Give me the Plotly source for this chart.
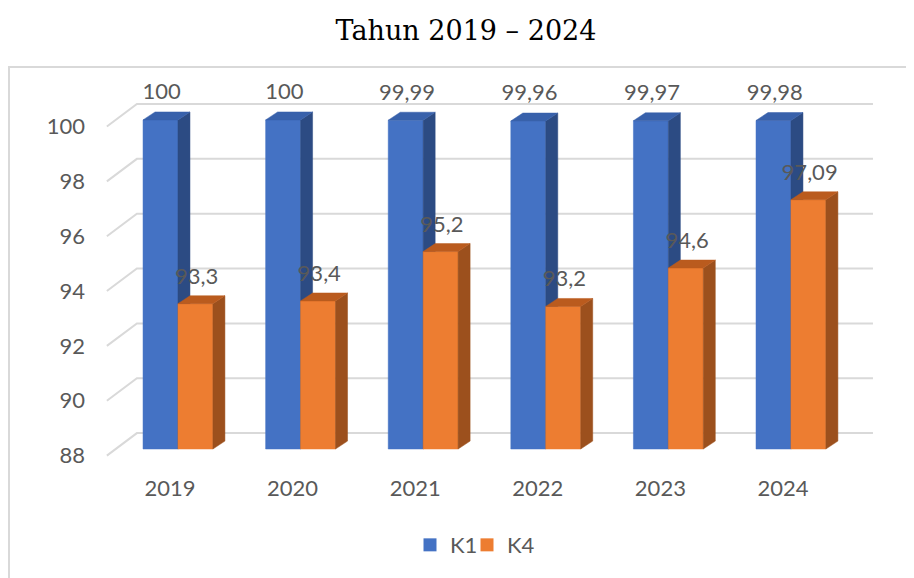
import plotly.graph_objects as go

# Data
years = ["2019", "2020", "2021", "2022", "2023", "2024"]
k1 = [100, 100, 99.99, 99.96, 99.97, 99.98]
k4 = [93.3, 93.4, 95.2, 93.2, 94.6, 97.09]
k1_labels = ["100", "100", "99,99", "99,96", "99,97", "99,98"]
k4_labels = ["93,3", "93,4", "95,2", "93,2", "94,6", "97,09"]
y_ticks = [88, 90, 92, 94, 96, 98, 100]

# Pseudo-3D geometry (axis units)
base = 88
bw = 0.285          # bar front width
dx, dy = 0.098, 0.29   # bar depth
wall_dx, wall_dy = 0.245, 0.58   # back wall offset
front_left = -0.58
wall_right = 5.669
label_drop = 0.24

blue = dict(front="#4472C4", side="#2C4B83", top="#3861AB")
orange = dict(front="#ED7D31", side="#9C501D", top="#BA5B1E")

fig = go.Figure()

# back wall gridlines + floor diagonals
gx, gy = [], []
for v in y_ticks:
    gx += [front_left, front_left + wall_dx, wall_right, None]
    gy += [v - label_drop, v + wall_dy, v + wall_dy, None]
fig.add_trace(go.Scatter(x=gx, y=gy, mode="lines", line=dict(color="#D9D9D9", width=2),
                         hoverinfo="skip", showlegend=False))


def add_bars(values, x_shift, col):
    fx, fy, sx, sy, tx, ty = [], [], [], [], [], []
    for i, v in enumerate(values):
        x0 = i + x_shift
        x1 = x0 + bw
        fx += [x0, x1, x1, x0, x0, None]
        fy += [base, base, v, v, base, None]
        sx += [x1, x1 + dx, x1 + dx, x1, x1, None]
        sy += [base, base + dy, v + dy, v, base, None]
        tx += [x0, x1, x1 + dx, x0 + dx, x0, None]
        ty += [v, v, v + dy, v + dy, v, None]
    for xs, ys, c in [(fx, fy, col["front"]), (sx, sy, col["side"]), (tx, ty, col["top"])]:
        fig.add_trace(go.Scatter(x=xs, y=ys, mode="lines", fill="toself", fillcolor=c,
                                 line=dict(color=c, width=0.5), hoverinfo="skip",
                                 showlegend=False))


add_bars(k1, -bw, blue)
add_bars(k4, 0, orange)

xs = list(range(len(years)))
fig.add_trace(go.Scatter(x=[i - bw / 2 + 0.01 for i in xs], y=[v + 0.95 for v in k1],
                         mode="text", text=k1_labels, textposition="middle center",
                         textfont=dict(size=22, color="#595959"), showlegend=False,
                         hoverinfo="skip", cliponaxis=False))
fig.add_trace(go.Scatter(x=[i + bw / 2 + 0.01 for i in xs], y=[v + 0.93 for v in k4],
                         mode="text", text=k4_labels, textposition="middle center",
                         textfont=dict(size=22, color="#595959"), showlegend=False,
                         hoverinfo="skip", cliponaxis=False))

# legend entries (one legend each so the spacing can be set)
fig.add_trace(go.Scatter(x=[None], y=[None], mode="markers", name="K1", legend="legend",
                         marker=dict(symbol="square", size=13, color=blue["front"])))
fig.add_trace(go.Scatter(x=[None], y=[None], mode="markers", name="K4", legend="legend2",
                         marker=dict(symbol="square", size=13, color=orange["front"])))

# page body adds 8px around the figure
off = 8
L, R, T, B = 100 - off, 890 - off, 87 - off, 460 - off
W, H = 914, 578
leg = dict(orientation="h", xanchor="left", y=-0.228, yanchor="middle",
           font=dict(size=22, color="#595959"), itemwidth=30, bgcolor="rgba(0,0,0,0)")
fig.update_layout(
    width=W, height=H,
    margin=dict(l=L, r=W - R, t=T, b=H - B),
    plot_bgcolor="white", paper_bgcolor="white",
    font=dict(family="Lato", color="#595959", size=22),
    title=dict(text="Tahun 2019 – 2024", x=(466 - off) / W, xref="container", xanchor="center",
               y=1 - (31 - off) / H, yanchor="middle",
               font=dict(family="DejaVu Serif", size=27, color="black")),
    xaxis=dict(range=[-0.636, 5.808], showgrid=False, zeroline=False, showline=False,
               tickmode="array", tickvals=[i - 0.065 for i in xs], ticktext=years,
               ticks="", ticklabelstandoff=13, tickfont=dict(size=22, color="#595959")),
    yaxis=dict(range=[87.6, 101.2], showgrid=False, zeroline=False, showline=False,
               tickmode="array", tickvals=[v - label_drop for v in y_ticks],
               ticktext=[str(v) for v in y_ticks], ticks="", ticklabelstandoff=14,
               tickfont=dict(size=22, color="#595959")),
    legend=dict(leg, x=(402 - L) / (R - L)),
    legend2=dict(leg, x=(459 - L) / (R - L)),
    shapes=[dict(type="rect", xref="paper", yref="paper",
                 x0=(9 - 100) / 790, x1=(925 - 100) / 790,
                 y0=(460 - 600) / 373, y1=(460 - 67) / 373,
                 line=dict(color="#D9D9D9", width=2), layer="below")],
)

fig.write_html("out.html")
